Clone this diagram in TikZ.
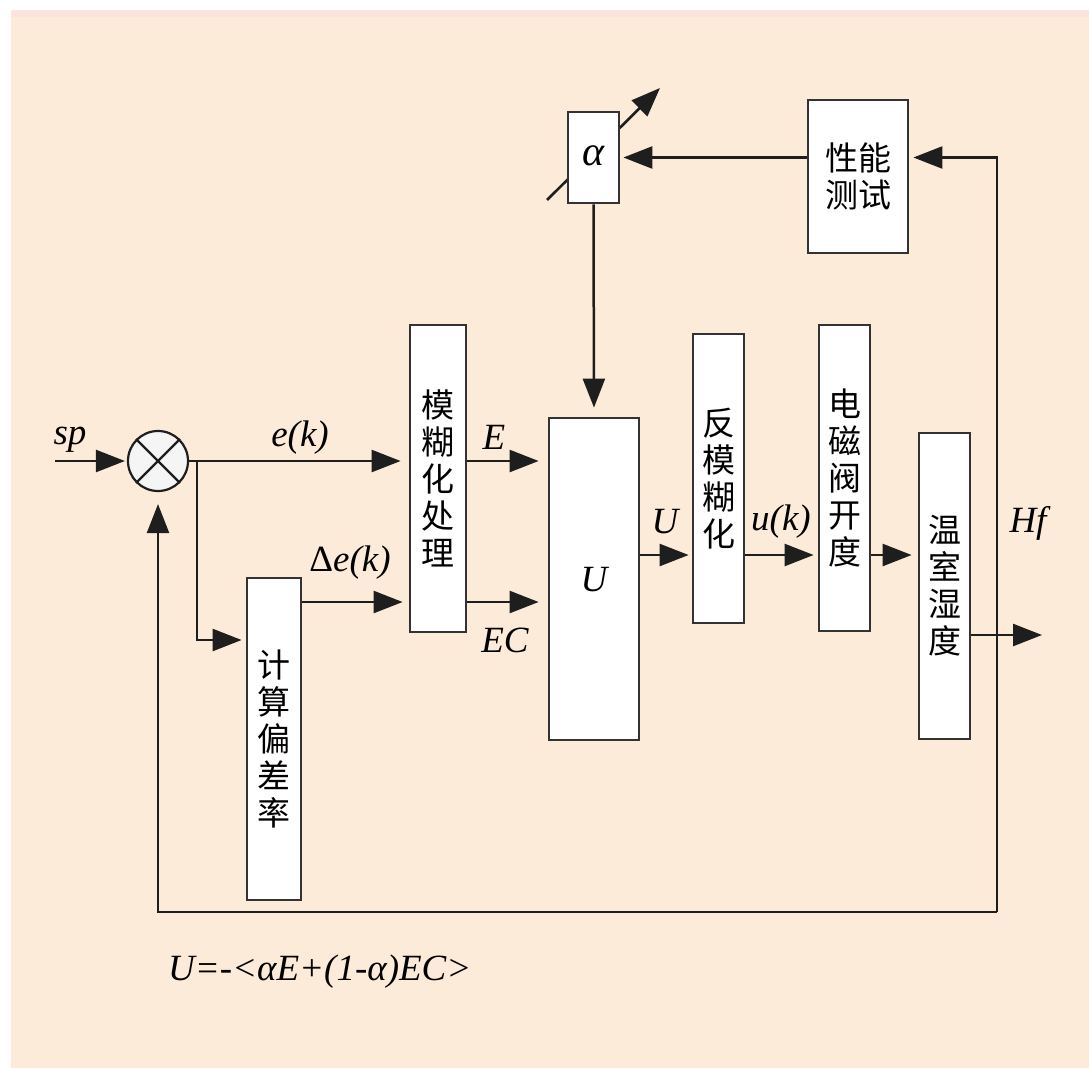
\documentclass[tikz,border=0pt]{standalone}
\usepackage{fontspec}
\setmainfont{Liberation Serif}
\newfontfamily\cjk{Noto Sans CJK SC}
\usetikzlibrary{arrows.meta}
\definecolor{bgpeach}{HTML}{FCEBD8}
\definecolor{topline}{HTML}{FBE3DE}
\definecolor{edge}{HTML}{1E1E1E}
\definecolor{boxedge}{HTML}{333333}
\begin{document}
\begin{tikzpicture}[x=1pt,y=-1pt,
  box/.style={draw=boxedge, line width=2.8pt, fill=white, inner sep=0pt},
  cn/.style={font=\cjk\fontsize{33}{37}\selectfont, align=center},
  lbl/.style={font=\fontsize{37}{40}\selectfont\itshape, inner sep=0pt},
  arr/.style={draw=edge, line width=2.5pt, -{Triangle[length=29pt,width=22pt]}},
  ln/.style={draw=edge, line width=2.5pt}]
\useasboundingbox (0,0) rectangle (1089,1068);
\fill[white] (0,0) rectangle (1089,1068);
\fill[bgpeach] (11,12) rectangle (1089,1068);
\fill[topline] (11,10) rectangle (1089,17);

% helper coordinates
\coordinate (spin) at (55,461);
\coordinate (yE) at (0,461);
\coordinate (yEC) at (0,602);
\coordinate (yBr) at (0,640);
\coordinate (yU) at (0,555);
\coordinate (br) at (197,461);
\coordinate (out) at (1042,635);
\coordinate (fbR) at (997,912);
\coordinate (dA) at (547,200);
\coordinate (dB) at (660,88);

% variable-gain arrow (behind the alpha box)
\draw[arr, line width=2.6pt] (dA) -- (dB);

% blocks
\node[draw=edge, line width=2.2pt, fill=white!96!black, circle, minimum size=60pt, inner sep=0pt] (sum) at (158,461) {};
\draw[edge, line width=2.2pt] (sum.north west) -- (sum.south east) (sum.north east) -- (sum.south west);
\node[box, cn, minimum width=54pt, minimum height=322pt] (cal) at (274,739) {计\\算\\偏\\差\\率};
\node[box, cn, minimum width=56pt, minimum height=307pt] (fuz) at (438,478.5) {模\\糊\\化\\处\\理};
\node[box, minimum width=90pt, minimum height=322pt] (U) at (594,579) {};
\node[lbl] (Ulbl) at (594,580) {U};
\node[box, minimum width=51pt, minimum height=91pt] (alpha) at (593.5,157.5) {};
\node[lbl, font=\fontsize{42}{44}\selectfont\itshape] (alphalbl) at (594,156) {α};
\node[box, cn, minimum width=100pt, minimum height=153pt] (perf) at (858,176.5) {性能\\测试};
\node[box, cn, minimum width=51pt, minimum height=289pt] (defuz) at (718.5,478.5) {反\\模\\糊\\化};
\node[box, cn, minimum width=51pt, minimum height=306pt] (valve) at (844.5,478) {电\\磁\\阀\\开\\度};
\node[box, cn, minimum width=51pt, minimum height=306pt] (hum) at (944.5,586) {温\\室\\湿\\度};

% connectors
\draw[arr, shorten >=2pt] (spin) -- (sum.west);
\draw[arr, shorten >=8pt] (sum.east) -- (fuz.west |- yE);
\draw[arr, shorten >=4pt] (br) |- (cal.west |- yBr);
\draw[arr, shorten >=6pt] (cal.east |- yEC) -- (fuz.west |- yEC);
\draw[arr, shorten >=9pt] (fuz.east |- yE) -- (U.west |- yE);
\draw[arr, shorten >=9pt] (fuz.east |- yEC) -- (U.west |- yEC);
\draw[arr, shorten >=9pt] (alpha.south) -- (U.north);
\draw[arr, shorten >=3pt] (U.east |- yU) -- (defuz.west |- yU);
\draw[arr, shorten >=4pt] (defuz.east |- yU) -- (valve.west |- yU);
\draw[arr, shorten >=6pt] (valve.east |- yU) -- (hum.west |- yU);
\draw[arr] (hum.east |- out) -- (out);
\draw[arr, shorten >=4pt] (fbR) |- (perf.east |- alpha.east);
\draw[arr, shorten >=3pt] (perf.west |- alpha.east) -- (alpha.east);
\draw[arr, shorten >=12pt] (fbR) -| (sum.south);

% labels
\node[lbl] (sp) at (70,440) {sp};
\node[lbl] (ek) at (300,438) {e(k)};
\node[lbl] (dek) at (350,563) {\upshape Δ\itshape e(k)};
\node[lbl] (E) at (494,437) {E};
\node[lbl] (EC) at (505,640) {EC};
\node[lbl] (Uo) at (665,522) {U};
\node[lbl] (uk) at (781,522) {u(k)};
\node[lbl] (Hf) at (1028,523) {Hf};
\node[lbl, anchor=west] (formula) at (168,972) {U=-<αE+(1-α)EC>};
\end{tikzpicture}
\end{document}
